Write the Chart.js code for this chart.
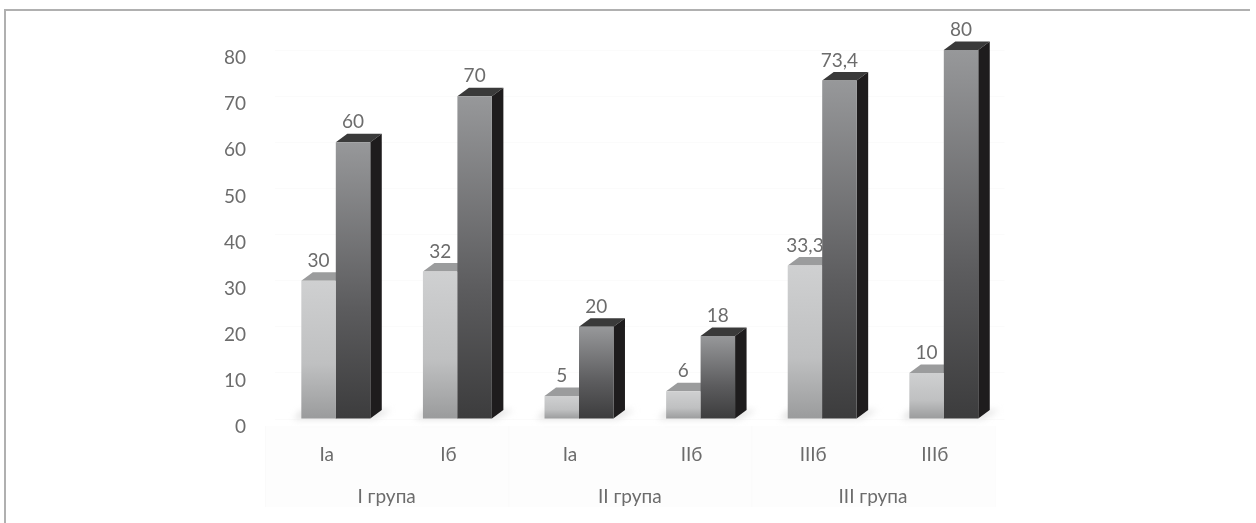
<!DOCTYPE html>
<html>
<head>
<meta charset="utf-8">
<title>Chart</title>
<script src="https://cdn.jsdelivr.net/npm/chart.js@4"></script>
<style>
    html, body { margin: 0; padding: 0; background: #fff; overflow: hidden; }
    #frame { position: absolute; left: 4px; top: 9px; right: 6px; bottom: 0; border-top: 2px solid #b0b0b0; border-left: 2px solid #b0b0b0; }
    canvas { position: absolute; left: 0; top: 0; }
</style>
</head>
<body>
<div id="frame"></div>
<canvas id="myChart" width="1256" height="523"></canvas>
<script>
const categories = ['Ia', 'Iб', 'Ia', 'IIб', 'IIIб', 'IIIб'];
const groups = ['I група', 'II група', 'III група'];
const lightValues = [30, 32, 5, 6, 33.3, 10];
const darkValues = [60, 70, 20, 18, 73.4, 80];
const yTicks = [0, 10, 20, 30, 40, 50, 60, 70, 80];

const textColor = '#6c6c6c';
const fontFamily = 'Lato, "Noto Sans", sans-serif';
const fontSize = 19;
const depthX = 11.5;
const depthY = 8.5;

// face gradient runs from the top of each bar down to the floor
const faceGradient = (stops) => (context) => {
    const chart = context.chart;
    const y = chart.scales.y;
    if (!chart.chartArea || !y || context.raw === undefined) {
        return stops[0];
    }
    const gradient = chart.ctx.createLinearGradient(0, y.getPixelForValue(context.raw), 0, y.getPixelForValue(0));
    gradient.addColorStop(0, stops[0]);
    gradient.addColorStop(0.6, stops[1]);
    gradient.addColorStop(1, stops[2]);
    return gradient;
};

// the 3d look: floor shadow, top cap and side of each bar, then the value text
const bars3d = {
    id: 'bars3d',
    beforeDraw(chart) {
        // very pale band behind the two rows of axis labels
        const ctx = chart.ctx;
        const x2 = chart.scales.x2;
        const top = chart.scales.x.top + 7;
        const bottom = x2.bottom - 16;
        ctx.save();
        ctx.fillStyle = '#fdfdfd';
        ctx.fillRect(x2.left - 10, top, x2.width, bottom - top);
        ctx.fillStyle = '#fafafa';
        [0, 1, 2, 3].forEach((i) => {
            ctx.fillRect(x2.left - 10 + i * x2.width / 3, top, 1, bottom - top);
        });
        ctx.restore();
    },
    beforeDatasetsDraw(chart) {
        const ctx = chart.ctx;
        const capColors = ['#9b9c9d', '#3a3a3a'];
        const light = chart.getDatasetMeta(0).data;
        const dark = chart.getDatasetMeta(1).data;

        ctx.save();
        ctx.filter = 'blur(3px)';
        ctx.fillStyle = '#e4e4e4';
        light.forEach((bar, i) => {
            const left = bar.x - bar.width / 2;
            const right = dark[i].x + dark[i].width / 2;
            ctx.beginPath();
            ctx.moveTo(left - 8, bar.base + 1);
            ctx.lineTo(left, bar.base - depthY);
            ctx.lineTo(right + depthX + 10, bar.base - depthY);
            ctx.lineTo(right + 4, bar.base + 1);
            ctx.closePath();
            ctx.fill();
        });
        ctx.restore();

        [light, dark].forEach((bars, d) => {
            bars.forEach((bar) => {
                const left = bar.x - bar.width / 2;
                const right = bar.x + bar.width / 2;
                ctx.fillStyle = capColors[d];
                ctx.beginPath();
                ctx.moveTo(left, bar.y);
                ctx.lineTo(left + depthX, bar.y - depthY);
                ctx.lineTo(right + depthX, bar.y - depthY);
                ctx.lineTo(right, bar.y);
                ctx.closePath();
                ctx.fill();

                ctx.fillStyle = '#1e1c1d';
                ctx.beginPath();
                ctx.moveTo(right, bar.y);
                ctx.lineTo(right + depthX, bar.y - depthY);
                ctx.lineTo(right + depthX, bar.base - depthY);
                ctx.lineTo(right, bar.base);
                ctx.closePath();
                ctx.fill();
            });
        });
    },
    afterDatasetsDraw(chart) {
        const ctx = chart.ctx;
        ctx.save();
        ctx.fillStyle = textColor;
        ctx.font = fontSize + 'px ' + fontFamily;
        ctx.textAlign = 'center';
        ctx.textBaseline = 'middle';
        chart.data.datasets.forEach((dataset, d) => {
            chart.getDatasetMeta(d).data.forEach((bar, i) => {
                const label = String(dataset.data[i]).replace('.', ',');
                ctx.fillText(label, bar.x, bar.y - 20);
            });
        });
        ctx.restore();
    }
};

new Chart(document.getElementById('myChart'), {
    type: 'bar',
    data: {
        labels: categories,
        datasets: [
            {
                label: 'light',
                data: lightValues,
                backgroundColor: faceGradient(['#cfd0d1', '#bfc0c1', '#9a9b9c']),
                categoryPercentage: 0.567,
                barPercentage: 1
            },
            {
                label: 'dark',
                data: darkValues,
                backgroundColor: faceGradient(['#97989a', '#5c5c5e', '#3c3c3d']),
                categoryPercentage: 0.567,
                barPercentage: 1
            }
        ]
    },
    plugins: [bars3d],
    options: {
        responsive: false,
        animation: false,
        layout: { padding: { top: 50, right: 251.4, left: 0, bottom: 0 } },
        plugins: { legend: { display: false }, tooltip: { enabled: false } },
        scales: {
            x: {
                position: 'bottom',
                grid: { display: false, drawTicks: false },
                border: { display: false },
                afterFit: (scale) => { scale.height = 63; },
                ticks: { color: textColor, font: { family: fontFamily, size: fontSize }, padding: 24, labelOffset: -9, maxRotation: 0 }
            },
            x2: {
                type: 'category',
                position: 'bottom',
                labels: groups,
                grid: { display: false, drawTicks: false },
                border: { display: false },
                afterFit: (scale) => { scale.height = 41; },
                ticks: { color: textColor, font: { family: fontFamily, size: fontSize }, padding: 3, labelOffset: -10, maxRotation: 0 }
            },
            y: {
                min: 0,
                max: 80,
                afterFit: (scale) => { scale.width = 275; },
                afterBuildTicks: (scale) => { scale.ticks = yTicks.map((value) => ({ value })); },
                grid: { color: '#fbfbfb', drawTicks: false },
                border: { display: false },
                ticks: { color: textColor, font: { family: fontFamily, size: fontSize }, padding: 29, labelOffset: 8 }
            }
        }
    }
});
</script>
</body>
</html>
